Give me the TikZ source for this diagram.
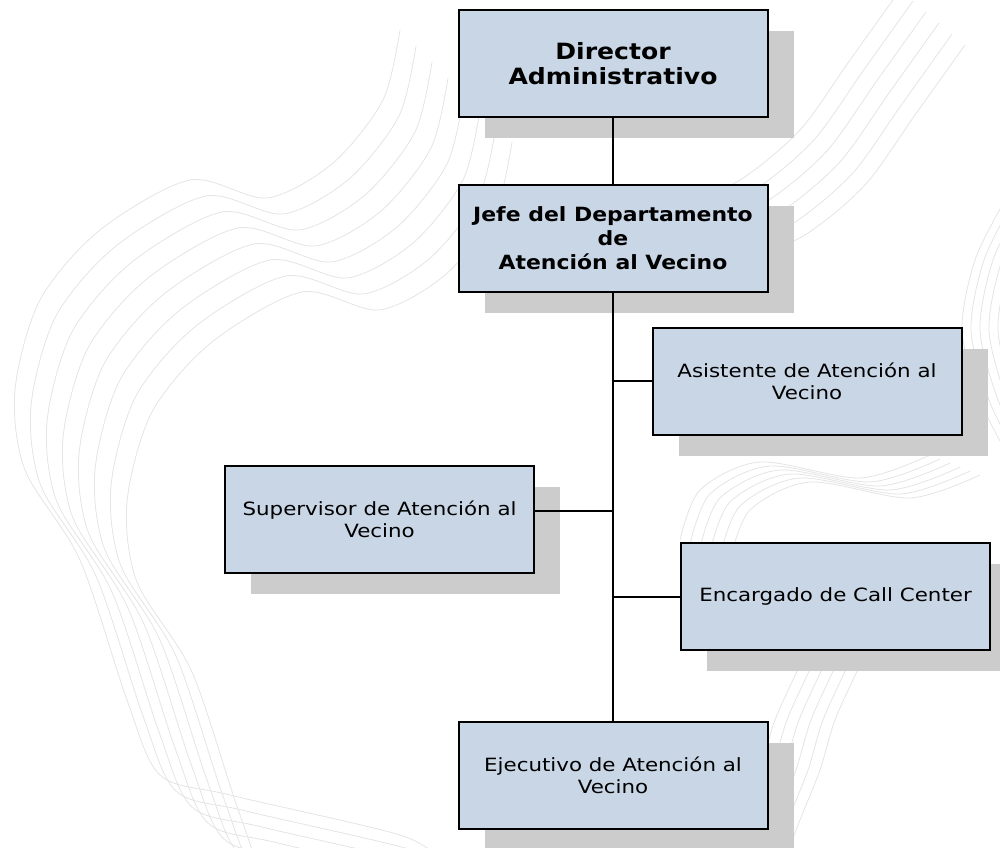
\documentclass[tikz,border=0pt]{standalone}
\usepackage{fontspec}
\setmainfont{DejaVu Sans}[FakeStretch=1.17, BoldFeatures={FakeStretch=1.12}]
\usetikzlibrary{positioning,shadows}
\definecolor{boxblue}{RGB}{201,214,230}
\definecolor{contourgray}{RGB}{228,228,228}

\begin{document}
\begin{tikzpicture}
[
  x=0.75pt, y=-0.75pt,
  puesto/.style={rectangle, draw=black, line width=1.5pt, fill=boxblue,
    minimum width=231.75pt, minimum height=80.25pt, inner sep=2pt, align=center,
    general shadow={fill=black!20, shadow xshift=19.5pt, shadow yshift=-16pt}},
  jefatura/.style={puesto, font=\bfseries\fontsize{14.7}{17.8}\selectfont},
  contour/.style={draw=contourgray, line width=0.6pt},
  on grid,
  font=\fontsize{13.7}{16.3}\selectfont,
  line width=1.6pt
]
 \useasboundingbox (0,0) rectangle (1000,848);
 \clip (0,0) rectangle (1000,848);

 % fondo: curvas de nivel
 \foreach \i in {0,...,7}
   \draw[contour, shift={(\i*16,\i*16)}] plot[smooth] coordinates
     {(400,30) (383,100) (333,163) (267,198) (190,180) (100,230) (40,300) (15,390)
      (25,470) (80,560) (127,700) (160,775) (230,795) (400,835) (440,860)};
 \foreach \i in {0,...,5}
   \draw[contour, shift={(\i*13,\i*11)}] plot[smooth] coordinates
     {(900,-10) (850,60) (800,130) (740,180) (680,205)};
 \foreach \i in {0,...,4}
   \draw[contour, shift={(\i*9,0)}] plot[smooth] coordinates
     {(1005,200) (975,260) (962,330) (980,400) (1005,450)};
 \foreach \i in {0,...,5}
   \draw[contour, shift={(\i*10,\i*4)}] plot[smooth] coordinates
     {(680,540) (700,490) (760,462) (860,478) (930,455)};
 \foreach \i in {0,...,5}
   \draw[contour, shift={(\i*12,0)}] plot[smooth] coordinates
     {(800,665) (775,720) (760,770) (740,820) (725,860)};

 \node[jefatura, font=\bfseries\fontsize{16.8}{18.75}\selectfont] (p0) at (613,63.5)
   {Director\\Administrativo};
 \node[jefatura] (p1) [below=130.9pt of p0] {Jefe del Departamento\\de\\Atención al Vecino};
 \node[puesto] (p2) [below right=107.25pt and 145.5pt of p1] {Asistente de Atención al\\Vecino};
 \node[puesto] (p3) [below left=211.1pt and 175.1pt of p1] {Supervisor de Atención al\\Vecino};
 \node[puesto] (p4) [below right=268.9pt and 166.9pt of p1] {Encargado de Call Center};
 \node[puesto] (p5) [below=403.1pt of p1] {Ejecutivo de Atención al\\Vecino};

 \coordinate (c3) at (613,511);

 \draw (p0.south) -- (p1.north);
 \draw (p1.south) -- (p5.north);
 \draw (p2.west) -- (p2.west -| p1.south);
 \draw (p3.east |- c3) -- (c3);
 \draw (p4.west) -- (p4.west -| p1.south);
\end{tikzpicture}
\end{document}
